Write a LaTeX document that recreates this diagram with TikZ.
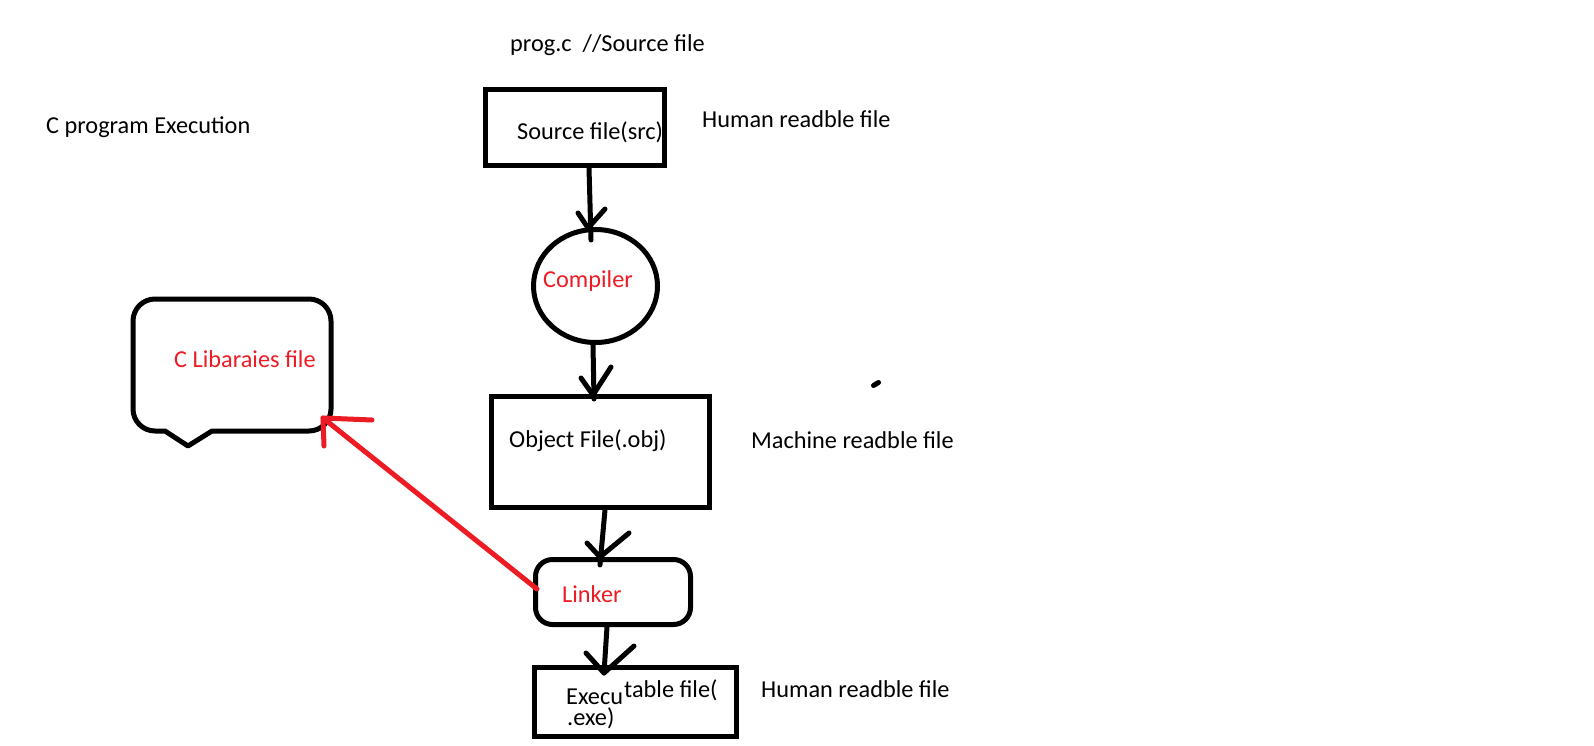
\documentclass[tikz,border=0pt]{standalone}
\usepackage{fontspec}
\setmainfont{Carlito}
\usetikzlibrary{shapes.geometric}
\definecolor{pred}{RGB}{237,28,36}
\begin{document}
\begin{tikzpicture}[x=1pt,y=-1pt,
  stroke/.style={line width=5pt,line cap=round,line join=round},
  redstroke/.style={stroke,draw=pred},
  box/.style={draw,line width=5pt,inner sep=0pt,outer sep=0pt},
  lbl/.style={anchor=base west,inner sep=0pt,font=\fontsize{24.3}{29}\selectfont},
  redlbl/.style={lbl,text=pred}]
\useasboundingbox[fill=white] (0,0) rectangle (1594,746);

% texts
\node[lbl] (prog) at (510,52) {prog.c\ \ //Source file};
\node[lbl] (title) at (46,134) {C program Execution};
\node[lbl] (hum1) at (702,128) {Human readble file};
\node[lbl] (mach) at (751,448) {Machine readble file};
\node[lbl] (hum2) at (761,697) {Human readble file};

% boxes
\node[box,minimum width=179pt,minimum height=76pt] (src) at (575,127.5) {};
\node[lbl] (srct) at (517,140) {Source file(src)};

\node[box,ellipse,minimum width=124pt,minimum height=113pt] (comp) at (595.5,286) {};
\node[redlbl] (compt) at (543,287) {Compiler};

\node[box,minimum width=218pt,minimum height=110.5pt] (obj) at (600.5,451.75) {};
\node[lbl] (objt) at (509,447) {Object File(.obj)};

\node[box,rounded corners=17pt,minimum width=155pt,minimum height=65pt] (link) at (613,592) {};
\node[redlbl] (linkt) at (562,602) {Linker};

\node[box,minimum width=202pt,minimum height=69pt] (exe) at (635.5,702) {};
\node[lbl] (exet1) at (566,704) {Execu};
\node[lbl] (exet2) at (624,697) {table file(};
\node[lbl] (exet3) at (567,725) {.exe)};

% callout
\node[redlbl] (lib) at (174,367) {C Libaraies file};
\draw[stroke] (212,431) [rounded corners=22pt] -- (331,431) -- (331,299) -- (133,299) -- (133,431) [sharp corners] -- (165,431) -- (188,446) -- (212,431);

% connectors
\coordinate (a1s) at (589,168); \coordinate (a1e) at (591,240);
\draw[stroke] (a1s) -- (a1e);
\draw[stroke] (578,213) -- (588,228) -- (605,209);

\coordinate (a2s) at (593,345); \coordinate (a2e) at (594,399);
\draw[stroke] (a2s) -- (a2e);
\draw[stroke] (581,378) -- (593,395) -- (611,367);

\coordinate (a3s) at (605,510); \coordinate (a3e) at (600,565);
\draw[stroke] (a3s) -- (a3e);
\draw[stroke] (587,543) -- (600,557) -- (629,533);

\coordinate (a4s) at (607,627); \coordinate (a4e) at (604,673);
\draw[stroke] (a4s) -- (a4e);
\draw[stroke] (586,653) -- (604,673) -- (634,646);

% red arrow linker -> libraries
\coordinate (rs) at (537,589); \coordinate (rt) at (323,418);
\draw[redstroke] (rs) -- (rt);
\draw[redstroke] (372,420) -- (rt) -- (324,446);

% stray dot
\draw[stroke] (873.5,385.5) -- (878.5,382.5);
\end{tikzpicture}
\end{document}
